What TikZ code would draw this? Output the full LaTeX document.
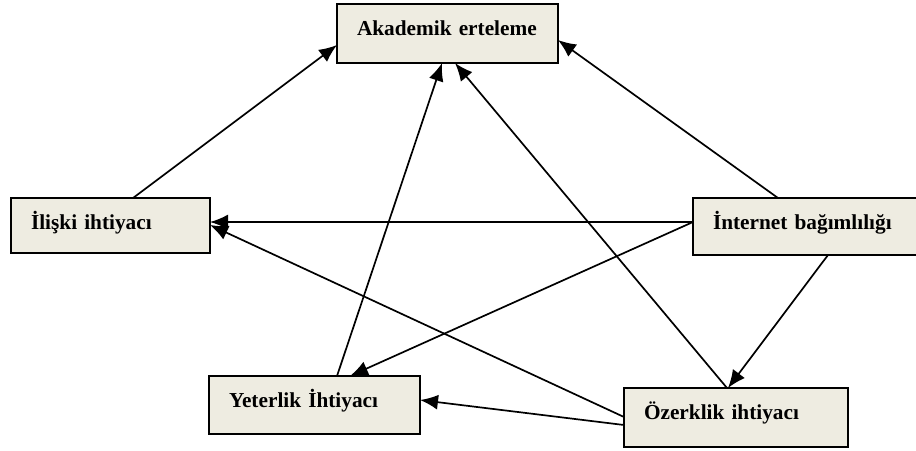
\documentclass[tikz,border=0pt]{standalone}
\usepackage{fontspec}
\setmainfont{Liberation Serif}
\usetikzlibrary{arrows.meta}
\definecolor{boxtan}{HTML}{EEECE1}

\begin{document}
\begin{tikzpicture}[x=1pt, y=-1pt,
-{Latex[length=18pt, width=15pt]}, line width=1.7pt,
box/.style = {draw, line width=2pt, fill=boxtan, anchor=north west, outer sep=0pt,
  inner xsep=20pt, inner ysep=0pt, align=left, text height=31pt,
  font=\fontsize{21.3}{25}\selectfont\bfseries},
arc/.style = {color=black}]
\useasboundingbox (0,0) rectangle (916,450);
\node[box, text width=181pt, text depth=28pt] (akad) at (337,4) {Akademik erteleme};
\node[box, text width=159pt, text depth=24pt] (ilis) at (11,198) {İlişki ihtiyacı};
\node[box, text width=187pt, text depth=26pt] (inte) at (693,198) {İnternet bağımlılığı};
\node[box, text width=171pt, text depth=27pt] (yete) at (209,376) {Yeterlik İhtiyacı};
\node[box, text width=184pt, text depth=28pt] (ozer) at (624,388) {Özerklik ihtiyacı};
\path[arc]([xshift=122pt]ilis.north west) edge ([yshift=-41pt]akad.north west);
\path[arc]([xshift=128pt]yete.north west) edge ([xshift=105pt]akad.south west);
\path[arc]([xshift=103pt]ozer.north west) edge ([xshift=118pt]akad.south west);
\path[arc]([xshift=85pt]inte.north west) edge ([yshift=-36pt]akad.north east);
\path[arc]([yshift=-24pt]inte.north west) edge ([yshift=-24pt]ilis.north east);
\path[arc]([yshift=-24pt]inte.north west) edge ([xshift=141pt]yete.north west);
\path[arc]([xshift=135pt]inte.south west) edge ([xshift=104pt]ozer.north west);
\path[arc]([yshift=-29pt]ozer.north west) edge ([yshift=-27pt]ilis.north east);
\path[arc]([yshift=-37pt]ozer.north west) edge ([yshift=-24pt]yete.north east);
\end{tikzpicture}
\end{document}
